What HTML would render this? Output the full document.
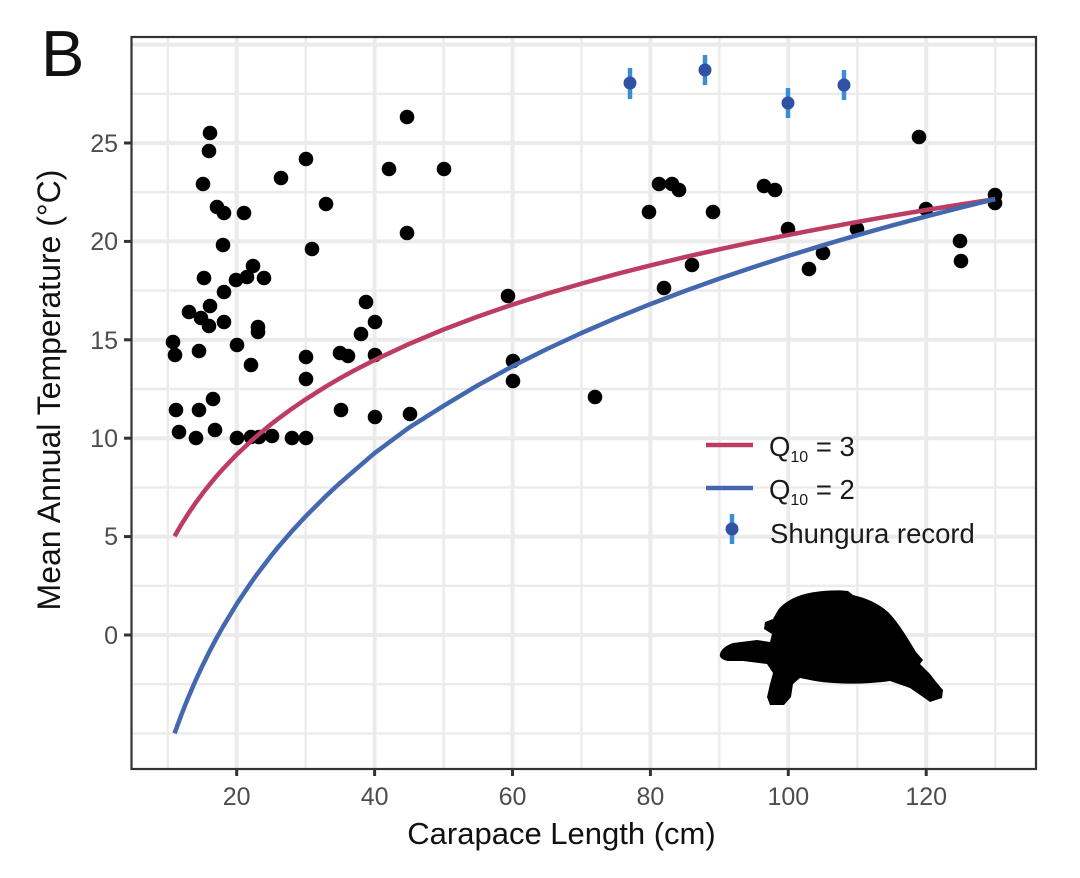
<!DOCTYPE html>
<html>
<head>
<meta charset="utf-8">
<style>
html,body{margin:0;padding:0;background:#fff;}
svg{display:block;}
text{font-family:"Liberation Sans",Arial,sans-serif;}
</style>
</head>
<body>
<svg width="1080" height="878" viewBox="0 0 1080 878" xmlns="http://www.w3.org/2000/svg">
<rect width="1080" height="878" fill="#fff"/>
<!-- minor gridlines -->
<g stroke="#ebebeb" stroke-width="2.4" fill="none">
<line x1="131" x2="1036" y1="93.8" y2="93.8"/>
<line x1="131" x2="1036" y1="192.2" y2="192.2"/>
<line x1="131" x2="1036" y1="290.6" y2="290.6"/>
<line x1="131" x2="1036" y1="389" y2="389"/>
<line x1="131" x2="1036" y1="487.4" y2="487.4"/>
<line x1="131" x2="1036" y1="585.8" y2="585.8"/>
<line x1="131" x2="1036" y1="684.2" y2="684.2"/>
<line x1="131" x2="1036" y1="733.4" y2="733.4"/>
<line y1="37" y2="769" x1="167.8" x2="167.8"/>
<line y1="37" y2="769" x1="305.7" x2="305.7"/>
<line y1="37" y2="769" x1="443.6" x2="443.6"/>
<line y1="37" y2="769" x1="581.5" x2="581.5"/>
<line y1="37" y2="769" x1="719.4" x2="719.4"/>
<line y1="37" y2="769" x1="857.3" x2="857.3"/>
<line y1="37" y2="769" x1="995.2" x2="995.2"/>
</g>
<!-- major gridlines -->
<g stroke="#ebebeb" stroke-width="4" fill="none">
<line x1="131" x2="1036" y1="44.6" y2="44.6"/>
<line x1="131" x2="1036" y1="143" y2="143"/>
<line x1="131" x2="1036" y1="241.4" y2="241.4"/>
<line x1="131" x2="1036" y1="339.8" y2="339.8"/>
<line x1="131" x2="1036" y1="438.2" y2="438.2"/>
<line x1="131" x2="1036" y1="536.6" y2="536.6"/>
<line x1="131" x2="1036" y1="635" y2="635"/>
<line y1="37" y2="769" x1="236.7" x2="236.7"/>
<line y1="37" y2="769" x1="374.6" x2="374.6"/>
<line y1="37" y2="769" x1="512.5" x2="512.5"/>
<line y1="37" y2="769" x1="650.4" x2="650.4"/>
<line y1="37" y2="769" x1="788.3" x2="788.3"/>
<line y1="37" y2="769" x1="926.2" x2="926.2"/>
</g>

<!-- data points -->
<g fill="#000">
<circle cx="210" cy="133" r="7.3"/><circle cx="209" cy="151" r="7.3"/><circle cx="203" cy="184" r="7.3"/>
<circle cx="217" cy="207" r="7.3"/><circle cx="224" cy="213" r="7.3"/><circle cx="244" cy="213" r="7.3"/>
<circle cx="281" cy="178" r="7.3"/><circle cx="306" cy="159" r="7.3"/><circle cx="326" cy="204" r="7.3"/>
<circle cx="223" cy="245" r="7.3"/><circle cx="312" cy="249" r="7.3"/><circle cx="253" cy="266" r="7.3"/>
<circle cx="204" cy="278" r="7.3"/><circle cx="236" cy="280" r="7.3"/><circle cx="247" cy="277" r="7.3"/>
<circle cx="264" cy="278" r="7.3"/><circle cx="224" cy="292" r="7.3"/><circle cx="189" cy="312" r="7.3"/>
<circle cx="210" cy="306" r="7.3"/><circle cx="201" cy="318" r="7.3"/><circle cx="209" cy="326" r="7.3"/>
<circle cx="224" cy="322" r="7.3"/><circle cx="258" cy="327" r="7.3"/><circle cx="258" cy="332" r="7.3"/>
<circle cx="173" cy="342" r="7.3"/><circle cx="175" cy="355" r="7.3"/><circle cx="199" cy="351" r="7.3"/>
<circle cx="237" cy="345" r="7.3"/><circle cx="251" cy="365" r="7.3"/><circle cx="306" cy="357" r="7.3"/>
<circle cx="306" cy="379" r="7.3"/><circle cx="213" cy="399" r="7.3"/><circle cx="176" cy="410" r="7.3"/>
<circle cx="199" cy="410" r="7.3"/><circle cx="179" cy="432" r="7.3"/><circle cx="196" cy="438" r="7.3"/>
<circle cx="215" cy="430" r="7.3"/><circle cx="237" cy="438" r="7.3"/><circle cx="251" cy="437" r="7.3"/>
<circle cx="259" cy="437" r="7.3"/><circle cx="272" cy="436" r="7.3"/><circle cx="292" cy="438" r="7.3"/>
<circle cx="306" cy="438" r="7.3"/>
<circle cx="407" cy="117" r="7.3"/><circle cx="389" cy="169" r="7.3"/><circle cx="444" cy="169" r="7.3"/>
<circle cx="407" cy="233" r="7.3"/><circle cx="366" cy="302" r="7.3"/><circle cx="375" cy="322" r="7.3"/>
<circle cx="361" cy="334" r="7.3"/><circle cx="340" cy="353" r="7.3"/><circle cx="348" cy="356" r="7.3"/>
<circle cx="375" cy="355" r="7.3"/><circle cx="341" cy="410" r="7.3"/><circle cx="375" cy="417" r="7.3"/>
<circle cx="410" cy="414" r="7.3"/>
<circle cx="659" cy="184" r="7.3"/><circle cx="672" cy="184" r="7.3"/><circle cx="679" cy="190" r="7.3"/>
<circle cx="649" cy="212" r="7.3"/><circle cx="713" cy="212" r="7.3"/><circle cx="692" cy="265" r="7.3"/>
<circle cx="664" cy="288" r="7.3"/><circle cx="508" cy="296" r="7.3"/><circle cx="513" cy="361" r="7.3"/>
<circle cx="513" cy="381" r="7.3"/><circle cx="595" cy="397" r="7.3"/>
<circle cx="764" cy="186" r="7.3"/><circle cx="775" cy="190" r="7.3"/><circle cx="919" cy="137" r="7.3"/>
<circle cx="788" cy="229" r="7.3"/><circle cx="857" cy="229" r="7.3"/><circle cx="926" cy="209" r="7.3"/>
<circle cx="823" cy="253" r="7.3"/><circle cx="809" cy="269" r="7.3"/><circle cx="960" cy="241" r="7.3"/>
<circle cx="961" cy="261" r="7.3"/><circle cx="995" cy="195" r="7.3"/><circle cx="995" cy="203" r="7.3"/>
</g>

<!-- curves -->
<polyline fill="none" stroke="#bd3c62" stroke-width="4.5" stroke-linejoin="round" stroke-linecap="butt"
points="174.6,536.2 178.1,530.1 181.5,524.3 185.0,518.8 188.4,513.4 191.9,508.3 195.3,503.3 202.2,493.9 209.1,485.1 216.0,476.8 222.9,469.0 236.7,454.6 250.5,441.6 257.4,435.5 271.2,424.1 278.1,418.8 291.9,408.7 305.7,399.3 326.3,386.3 340.1,378.2 353.9,370.6 374.6,360.0 409.1,343.9 443.6,329.5 478.0,316.5 512.5,304.6 547.0,293.7 581.5,283.6 615.9,274.2 650.4,265.4 684.9,257.1 719.4,249.3 753.8,241.9 788.3,234.9 822.8,228.3 857.3,221.9 891.7,215.8 926.2,210.0 960.7,204.5 995.2,199.1"/>
<polyline fill="none" stroke="#4468b0" stroke-width="4.5" stroke-linejoin="round" stroke-linecap="butt"
points="174.6,733.3 178.1,723.7 181.5,714.5 185.0,705.6 188.4,697.2 191.9,689.0 195.3,681.1 202.2,666.2 209.1,652.2 216.0,639.1 222.9,626.8 236.7,604.0 250.5,583.4 257.4,573.7 271.2,555.7 278.1,547.2 291.9,531.2 305.7,516.3 326.3,495.7 340.1,482.9 353.9,470.9 374.6,453.1 409.1,427.6 443.6,405.8 478.0,385.2 512.5,366.3 547.0,349.0 581.5,333.0 615.9,318.1 650.4,304.1 684.9,291.0 719.4,278.6 753.8,267.0 788.3,255.9 822.8,245.3 857.3,235.2 891.7,225.6 926.2,216.4 960.7,207.6 995.2,199.1"/>

<!-- Shungura -->
<g stroke="#3a8fd0" stroke-width="4.5">
<line x1="630" x2="630" y1="68" y2="99"/>
<line x1="705" x2="705" y1="55" y2="85"/>
<line x1="788" x2="788" y1="88" y2="118"/>
<line x1="844" x2="844" y1="70" y2="100"/>
</g>
<g fill="#2f52a4">
<circle cx="630" cy="83" r="6.5"/>
<circle cx="705" cy="70" r="6.5"/>
<circle cx="788" cy="103" r="6.5"/>
<circle cx="844" cy="85" r="6.5"/>
</g>

<!-- turtle -->
<path fill="#000" d="M778,610 C786,600 800,594 815,592 C828,590 840,590 848,591 L853,595 C866,598 878,603 888,612 C898,622 907,637 916,652 L923,660 L920,664 L930,674 L937,683 L943,690 L942,698 L930,702 L923,697 L910,688 L890,681 C870,684 840,685 815,681 L800,678 L793,684 L791,697 L784,705 L770,705 L767,697 L770,684 L773,673 L767,664 L743,661 L728,661 C722,660 719,657 720,654 C721,649 727,645 733,643 L757,640 L770,642 L772,634 L764,629 L765,622 L773,619 Z"/>

<!-- legend -->
<line x1="706" x2="753" y1="445" y2="445" stroke="#bd3c62" stroke-width="4.5"/>
<line x1="706" x2="753" y1="488" y2="488" stroke="#4468b0" stroke-width="4.5"/>
<line x1="732" x2="732" y1="514" y2="544" stroke="#3a8fd0" stroke-width="4.5"/>
<circle cx="732" cy="529" r="6.5" fill="#2f52a4"/>
<g fill="#1a1a1a" font-size="27.5">
<text x="769" y="456">Q<tspan font-size="16" dy="6">10</tspan><tspan dy="-6"> = 3</tspan></text>
<text x="769" y="499">Q<tspan font-size="16" dy="6">10</tspan><tspan dy="-6"> = 2</tspan></text>
<text x="770" y="543">Shungura record</text>
</g>

<!-- panel border -->
<rect x="131.5" y="37" width="904.5" height="732" fill="none" stroke="#333" stroke-width="2.2"/>

<!-- ticks -->
<g stroke="#333" stroke-width="3">
<line x1="124" x2="131" y1="143" y2="143"/>
<line x1="124" x2="131" y1="241.4" y2="241.4"/>
<line x1="124" x2="131" y1="339.8" y2="339.8"/>
<line x1="124" x2="131" y1="438.2" y2="438.2"/>
<line x1="124" x2="131" y1="536.6" y2="536.6"/>
<line x1="124" x2="131" y1="635" y2="635"/>
<line y1="769" y2="776" x1="236.7" x2="236.7"/>
<line y1="769" y2="776" x1="374.6" x2="374.6"/>
<line y1="769" y2="776" x1="512.5" x2="512.5"/>
<line y1="769" y2="776" x1="650.4" x2="650.4"/>
<line y1="769" y2="776" x1="788.3" x2="788.3"/>
<line y1="769" y2="776" x1="926.2" x2="926.2"/>
</g>
<g fill="#4d4d4d" font-size="25" text-anchor="end">
<text x="118" y="152">25</text>
<text x="118" y="250">20</text>
<text x="118" y="349">15</text>
<text x="118" y="447">10</text>
<text x="118" y="545">5</text>
<text x="118" y="644">0</text>
</g>
<g fill="#4d4d4d" font-size="25" text-anchor="middle">
<text x="236.7" y="805">20</text>
<text x="374.6" y="805">40</text>
<text x="512.5" y="805">60</text>
<text x="650.4" y="805">80</text>
<text x="788.3" y="805">100</text>
<text x="926.2" y="805">120</text>
</g>

<!-- axis titles -->
<text x="561.5" y="844" font-size="31" fill="#111" text-anchor="middle">Carapace Length (cm)</text>
<text transform="translate(60,390) rotate(-90)" x="0" y="0" font-size="32" fill="#111" text-anchor="middle">Mean Annual Temperature (°C)</text>

<!-- panel tag -->
<text x="41" y="76" font-size="65" fill="#111">B</text>
</svg>
</body>
</html>
